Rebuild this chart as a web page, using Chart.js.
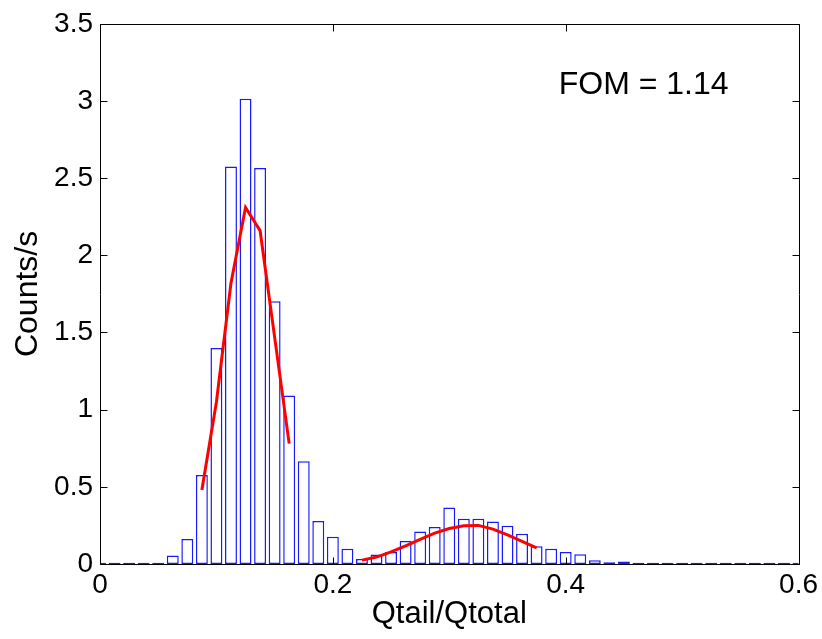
<!DOCTYPE html>
<html>
<head>
<meta charset="utf-8">
<script src="https://cdn.jsdelivr.net/npm/chart.js@4/dist/chart.umd.min.js"></script>
<style>
  html, body { margin: 0; padding: 0; background: #ffffff; }
  #c { display: block; }
</style>
</head>
<body>
<canvas id="c" width="822" height="639"></canvas>
<script>
// ---- Data ----
const binCenters = [
  0, 0.0125, 0.025, 0.0375, 0.05, 0.0625, 0.075, 0.0875, 0.1, 0.1125,
  0.125, 0.1375, 0.15, 0.1625, 0.175, 0.1875, 0.2, 0.2125, 0.225, 0.2375,
  0.25, 0.2625, 0.275, 0.2875, 0.3, 0.3125, 0.325, 0.3375, 0.35, 0.3625,
  0.375, 0.3875, 0.4, 0.4125, 0.425, 0.4375, 0.45, 0.4625, 0.475, 0.4875,
  0.5, 0.5125, 0.525, 0.5375, 0.55, 0.5625, 0.575, 0.5875, 0.6
];
const countsPerSec = [
  0.008, 0.008, 0.008, 0.008, 0.008, 0.055, 0.162, 0.576, 1.399, 2.575,
  3.015, 2.565, 1.703, 1.091, 0.666, 0.278, 0.177, 0.098, 0.033, 0.061,
  0.078, 0.149, 0.211, 0.240, 0.366, 0.293, 0.293, 0.276, 0.248, 0.196,
  0.115, 0.098, 0.078, 0.063, 0.025, 0.012, 0.016, 0.008, 0.008, 0.008,
  0.008, 0.008, 0.008, 0.008, 0.008, 0.008, 0.008, 0.008, 0.008
];
const fit1X = [0.0875, 0.1, 0.1125, 0.125, 0.1375, 0.15, 0.1625];
const fit1Y = [0.48, 1.05, 1.82, 2.31, 2.16, 1.47, 0.78];
const fit2X = [0.225, 0.2375, 0.25, 0.2625, 0.275, 0.2875, 0.3, 0.3125, 0.325, 0.3375, 0.35, 0.3625, 0.375];
const fit2Y = [0.025, 0.045, 0.078, 0.118, 0.160, 0.200, 0.230, 0.248, 0.250, 0.226, 0.188, 0.147, 0.104];
const xTicks = [0, 0.2, 0.4, 0.6];
const yTicks = [0, 0.5, 1, 1.5, 2, 2.5, 3, 3.5];
const xLabel = 'Qtail/Qtotal';
const yLabel = 'Counts/s';
const noteText = 'FOM = 1.14';
const noteAt = { x: 0.394, y: 3.045 };

// ---- Drawing ----
const FONT = "'Liberation Sans', Arial, Helvetica, sans-serif";

const framePlugin = {
  id: 'frame',
  afterDatasetsDraw(chart) {
    const { ctx, chartArea: a, scales: { x, y } } = chart;
    ctx.save();
    ctx.strokeStyle = '#000000';
    ctx.lineWidth = 1;
    const L = Math.round(a.left) + 0.5, R = Math.round(a.right) + 0.5;
    const T = Math.round(a.top) + 0.5, B = Math.round(a.bottom) + 0.5;
    ctx.beginPath();
    ctx.moveTo(L, T); ctx.lineTo(R, T); ctx.lineTo(R, B); ctx.lineTo(L, B); ctx.closePath();
    const tl = 7;
    yTicks.forEach(v => {
      const py = Math.round(y.getPixelForValue(v)) + 0.5;
      ctx.moveTo(L, py); ctx.lineTo(L + tl, py);
      ctx.moveTo(R, py); ctx.lineTo(R - tl, py);
    });
    xTicks.forEach(v => {
      const px = Math.round(x.getPixelForValue(v)) + 0.5;
      ctx.moveTo(px, B); ctx.lineTo(px, B - tl);
      ctx.moveTo(px, T); ctx.lineTo(px, T + tl);
    });
    ctx.stroke();
    // annotation
    ctx.fillStyle = '#000000';
    ctx.font = "32px " + FONT;
    ctx.textAlign = 'left';
    ctx.textBaseline = 'alphabetic';
    ctx.fillText(noteText, x.getPixelForValue(noteAt.x), y.getPixelForValue(noteAt.y));
    ctx.restore();
  }
};

new Chart(document.getElementById('c'), {
  type: 'bar',
  data: {
    datasets: [
      {
        type: 'line',
        data: fit1X.map((v, i) => ({ x: v, y: fit1Y[i] })),
        borderColor: '#ff0000',
        borderWidth: 3,
        pointRadius: 0,
        fill: false,
        tension: 0,
        order: 0
      },
      {
        type: 'line',
        data: fit2X.map((v, i) => ({ x: v, y: fit2Y[i] })),
        borderColor: '#ff0000',
        borderWidth: 3,
        pointRadius: 0,
        fill: false,
        tension: 0,
        order: 0
      },
      {
        type: 'bar',
        data: binCenters.map((v, i) => ({ x: v, y: countsPerSec[i] })),
        backgroundColor: '#ffffff',
        borderColor: 'rgba(0,0,255,0.9)',
        borderWidth: 1.5,
        borderSkipped: false,
        barPercentage: 0.82,
        categoryPercentage: 1,
        clip: 0,
        order: 1
      }
    ]
  },
  options: {
    responsive: false,
    animation: false,
    devicePixelRatio: 1,
    layout: { padding: { left: 0, top: 21, right: 23, bottom: 0 } },
    plugins: { legend: { display: false }, tooltip: { enabled: false } },
    scales: {
      x: {
        type: 'linear',
        min: 0, max: 0.6,
        offset: false,
        grid: { display: false, drawTicks: false },
        border: { display: false },
        afterBuildTicks: s => { s.ticks = xTicks.map(v => ({ value: v })); },
        afterFit: s => { s.height = 75; },
        ticks: {
          color: '#000000',
          padding: 4,
          maxRotation: 0,
          autoSkip: false,
          callback: v => String(v),
          font: { family: FONT, size: 28 }
        },
        title: {
          display: true,
          text: xLabel,
          color: '#000000',
          font: { family: FONT, size: 31 },
          padding: { top: 0, bottom: 6 }
        }
      },
      y: {
        min: 0, max: 3.5,
        grid: { display: false, drawTicks: false },
        border: { display: false },
        afterBuildTicks: s => { s.ticks = yTicks.map(v => ({ value: v })); },
        afterFit: s => { s.width = 100; },
        ticks: {
          color: '#000000',
          padding: 7,
          autoSkip: false,
          callback: v => String(v),
          font: { family: FONT, size: 28 }
        },
        title: {
          display: true,
          text: yLabel,
          color: '#000000',
          font: { family: FONT, size: 32 },
          padding: { top: 9, bottom: 0 }
        }
      }
    }
  },
  plugins: [framePlugin]
});
</script>
</body>
</html>
